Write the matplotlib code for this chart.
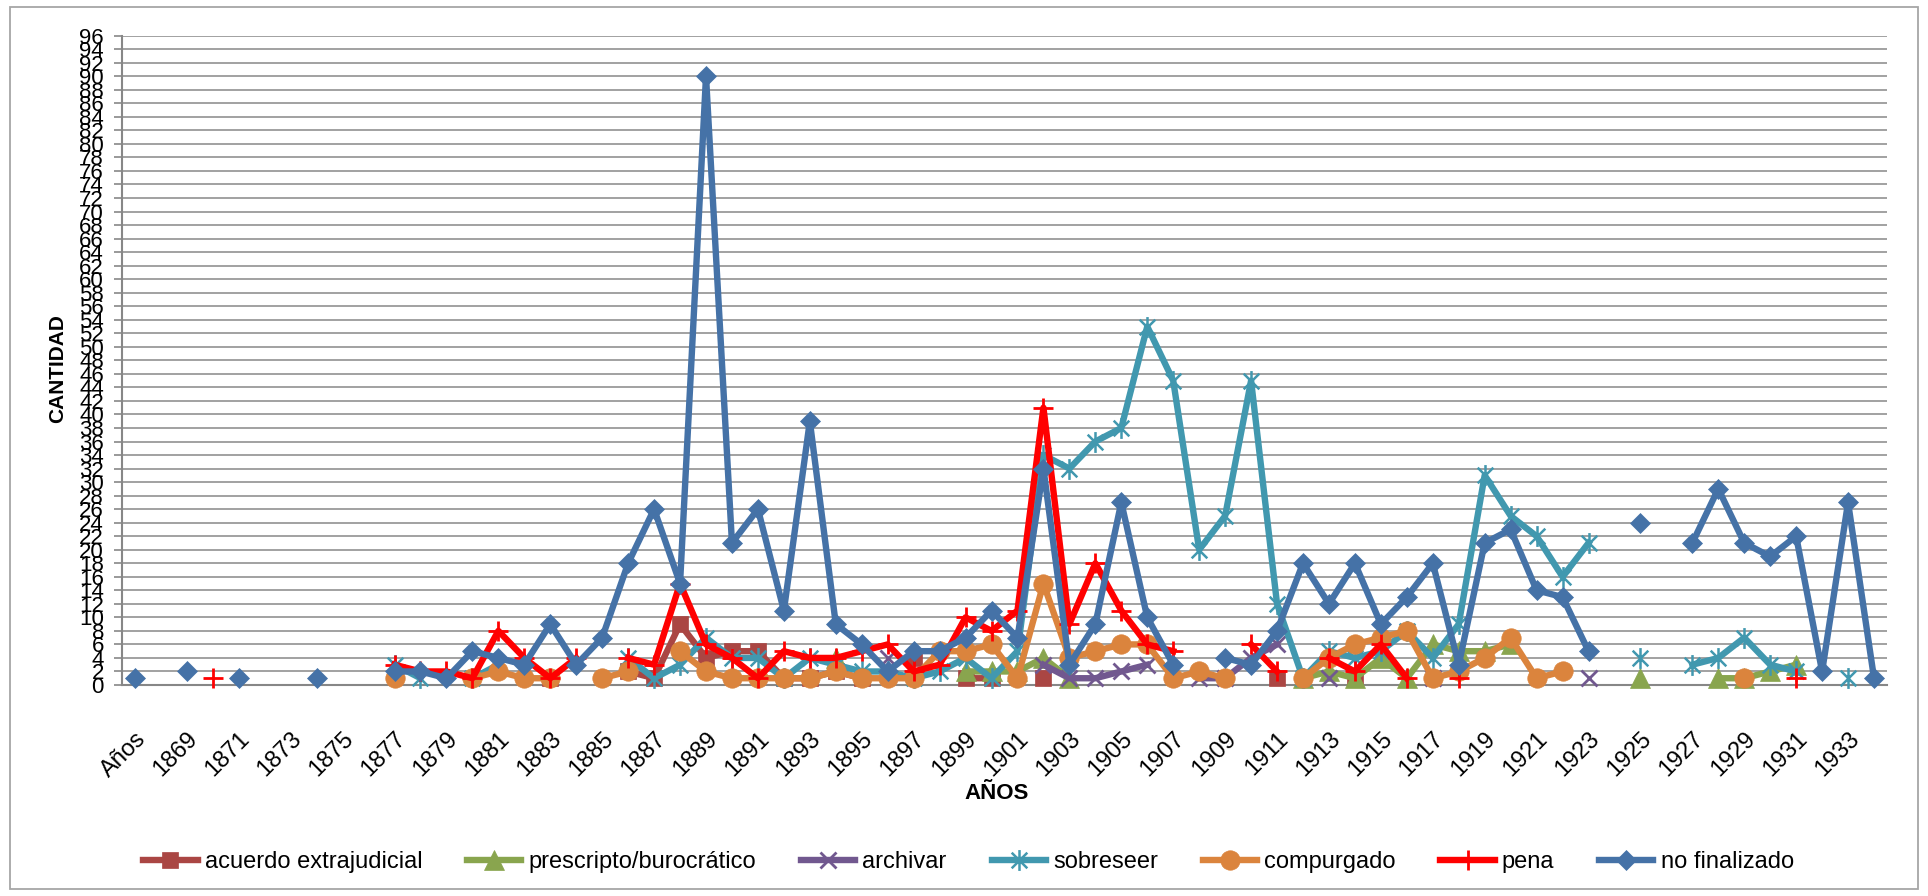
import numpy as np
import matplotlib
matplotlib.use("Agg")
import matplotlib.pyplot as plt
from matplotlib.path import Path
from matplotlib.patches import Rectangle
from matplotlib.lines import Line2D

plt.rcParams['font.family'] = ['Liberation Sans', 'DejaVu Sans']

n = np.nan

# Category axis: header cell followed by the years 1868-1934
categories = ["Años"] + [str(y) for y in range(1868, 1935)]

acuerdo_extrajudicial = [n, n, n, n, n, n, n, n, n, n,
                         n, n, n, n, n, n, 1, n, n, 2,
                         1, 9, 4, 5, 5, 1, 1, 2, 1, n,
                         4, n, 1, 1, n, 1, n, n, n, n,
                         n, n, n, n, 1, n, n, 1, n, n,
                         n, n, n, n, n, n, n, n, n, n,
                         n, n, n, n, n, n, n, n]

prescripto_burocratico = [n, n, n, n, n, n, n, n, n, n,
                          n, n, n, n, n, n, n, n, n, n,
                          n, n, n, n, n, n, n, 4, n, n,
                          n, n, 2, 2, 2, 4, 1, n, n, n,
                          n, n, n, n, n, 1, 2, 1, 4, 1,
                          6, 5, 5, 6, n, n, n, n, 1, n,
                          n, 1, 1, 2, 3, n, n, n]

archivar = [n, n, n, n, n, n, n, n, n, n,
            n, n, n, n, n, n, n, n, n, n,
            n, n, n, n, n, n, n, n, n, 4,
            n, n, n, n, n, 3, 1, 1, 2, 3,
            n, 1, 1, 4, 6, n, 1, n, n, n,
            1, n, n, n, n, n, 1, n, n, n,
            n, n, n, n, n, n, n, n]

sobreseer = [n, n, n, n, n, n, n, n, n, n,
             3, 1, n, 1, 3, n, n, n, n, 4,
             1, 3, 7, 4, 4, 1, 4, 3, 2, 2,
             1, 2, 4, 1, 5, 34, 32, 36, 38, 53,
             45, 20, 25, 45, 12, 1, 5, 4, 5, 8,
             4, 9, 31, 25, 22, 16, 21, n, 4, n,
             3, 4, 7, 3, 2, n, 1, n]

compurgado = [n, n, n, n, n, n, n, n, n, n,
              1, n, n, 1, 2, 1, 1, n, 1, 2,
              n, 5, 2, 1, 1, 1, 1, 2, 1, 1,
              1, 5, 5, 6, 1, 15, 4, 5, 6, 6,
              1, 2, 1, n, n, 1, 4, 6, 7, 8,
              1, 2, 4, 7, 1, 2, n, n, n, n,
              n, n, 1, n, n, n, n, n]

pena = [n, n, n, 1, n, n, n, n, n, n,
        3, 2, 2, 1, 8, 4, 1, 4, n, 4,
        3, 15, 6, 4, 1, 5, 4, 4, 5, 6,
        2, 3, 10, 8, 11, 41, 9, 18, 11, 6,
        5, n, n, 6, 2, n, 4, 2, 6, 1,
        n, 1, n, n, n, n, n, n, n, n,
        n, n, n, n, 1, n, n, n]

no_finalizado = [1, n, 2, n, 1, n, n, 1, n, n,
                 2, 2, 1, 5, 4, 3, 9, 3, 7, 18,
                 26, 15, 90, 21, 26, 11, 39, 9, 6, 2,
                 5, 5, 7, 11, 7, 32, 3, 9, 27, 10,
                 3, n, 4, 3, 8, 18, 12, 18, 9, 13,
                 18, 3, 21, 23, 14, 13, 5, n, 24, n,
                 21, 29, 21, 19, 22, 2, 27, 1]

# Excel-style "star" marker: a diagonal cross with a vertical stroke
star = Path([(-0.75, -0.75), (0.75, 0.75), (-0.75, 0.75), (0.75, -0.75),
             (0, -1), (0, 1)],
            [Path.MOVETO, Path.LINETO, Path.MOVETO, Path.LINETO,
             Path.MOVETO, Path.LINETO])

series = [
    ("acuerdo extrajudicial", acuerdo_extrajudicial, "#AA4643",
     dict(marker="s", markersize=12, markeredgewidth=0.5)),
    ("prescripto/burocrático", prescripto_burocratico, "#89A54E",
     dict(marker="^", markersize=14, markeredgewidth=0.5)),
    ("archivar", archivar, "#71588F",
     dict(marker="x", markersize=12, markeredgewidth=2.0)),
    ("sobreseer", sobreseer, "#4198AF",
     dict(marker=star, markersize=15, markeredgewidth=1.8)),
    ("compurgado", compurgado, "#DB843D",
     dict(marker="o", markersize=14, markeredgewidth=0.5)),
    ("pena", pena, "#FF0000",
     dict(marker="+", markersize=15, markeredgewidth=2.0)),
    ("no finalizado", no_finalizado, "#4572A7",
     dict(marker="D", markersize=10.5, markeredgewidth=0.5)),
]

W, H = 1928, 896
fig = plt.figure(figsize=(W / 100, H / 100), dpi=100)
fig.patch.set_facecolor("white")

# outer chart border
fig.add_artist(Rectangle((10 / W, 7 / H), (1918 - 10) / W, (889 - 7) / H,
                         transform=fig.transFigure, fill=False,
                         edgecolor="#A6A6A6", linewidth=1.3))

left, right, top, bottom = 122, 1887, 35.7, 685
ax = fig.add_axes([left / W, 1 - bottom / H, (right - left) / W, (bottom - top) / H])

x = np.arange(len(categories))
handles = []
for z, (label, vals, color, mk) in enumerate(series):
    y = np.array(vals, dtype=float)
    ax.plot(x, y, color=color, linewidth=4.6, solid_joinstyle="round",
            markerfacecolor=color, markeredgecolor=color,
            zorder=3 + z, clip_on=False, label=label, **mk)
    handles.append(Line2D([0], [0], color=color, linewidth=4.6,
                          markerfacecolor=color, markeredgecolor=color, **mk))

ax.set_xlim(-0.5, len(categories) - 0.5)
ax.set_ylim(0, 96)
ax.set_yticks(np.arange(0, 97, 2))
ax.yaxis.grid(True, color="#878787", linewidth=1.1)
ax.set_axisbelow(True)

for s in ("top", "right"):
    ax.spines[s].set_visible(False)
for s in ("left", "bottom"):
    ax.spines[s].set_color("#878787")
    ax.spines[s].set_linewidth(1.5)

ax.tick_params(axis="y", length=6, width=1.2, color="#878787", pad=7,
               labelsize=16, labelcolor="black")
ax.set_xticks(x[::2])
ax.set_xticklabels(categories[::2], rotation=45, ha="right", va="top",
                   rotation_mode="anchor", fontsize=17)
ax.tick_params(axis="x", length=0, pad=31)

fig.text(58 / W, 1 - 369 / H, "CANTIDAD", rotation=90, ha="center", va="center",
         fontsize=15, fontweight="bold")
fig.text(997 / W, 1 - 793 / H, "AÑOS", ha="center", va="center",
         fontsize=16, fontweight="bold")

fig.legend(handles, [s[0] for s in series], loc="center",
           bbox_to_anchor=((145 + 1792) / 2 / W, 1 - 862 / H), ncol=7,
           frameon=False, fontsize=17, handlelength=2.3, handletextpad=0.3,
           columnspacing=1.9)

fig.savefig("out.png", dpi=100, facecolor="white")
